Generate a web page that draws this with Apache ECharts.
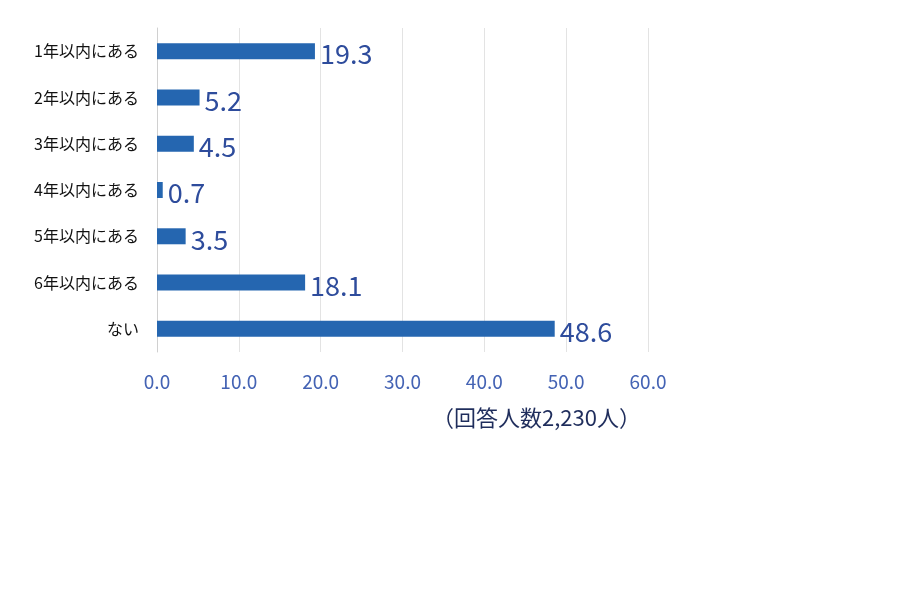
<!DOCTYPE html>
<html><head><meta charset="utf-8">
<script src="https://cdn.jsdelivr.net/npm/echarts@6/dist/echarts.min.js"></script>
<style>html,body{margin:0;background:#fff}#c{width:900px;height:600px}</style>
</head><body><div id="c"></div>
<script>
const categories = ['1年以内にある','2年以内にある','3年以内にある','4年以内にある','5年以内にある','6年以内にある','ない'];
const values = [19.3, 5.2, 4.5, 0.7, 3.5, 18.1, 48.6];
const note = '（回答人数2,230人）';
const font = '"Noto Sans CJK JP", "Noto Sans", sans-serif';
const chart = echarts.init(document.getElementById('c'));
chart.setOption({
  animation: false,
  grid: {left: 157, right: 252, top: 28, bottom: 248},
  xAxis: {type: 'value', min: 0, max: 60, interval: 10,
    axisLabel: {formatter: v => v.toFixed(1), color: '#4463b4', fontSize: 19, margin: 20, fontFamily: font},
    splitLine: {lineStyle: {color: '#e3e3e3'}}, axisLine: {show: false}, axisTick: {show: false}},
  yAxis: {type: 'category', data: categories, inverse: true,
    axisLabel: {color: '#111', fontSize: 16, margin: 18, fontFamily: font},
    axisLine: {lineStyle: {color: '#d0d0d0'}}, axisTick: {show: false}},
  series: [{type: 'bar', data: values, barWidth: 16, itemStyle: {color: '#2566b0'},
    label: {show: true, position: 'right', distance: 5, formatter: p => p.value.toFixed(1),
      color: '#2e4c9c', fontSize: 27, fontFamily: font, offset: [0, 3]}}],
  graphic: [{type: 'text', left: 432, top: 407,
    style: {text: note, fontSize: 22, fill: '#1f2d5c', fontFamily: font}}]
});
</script></body></html>
